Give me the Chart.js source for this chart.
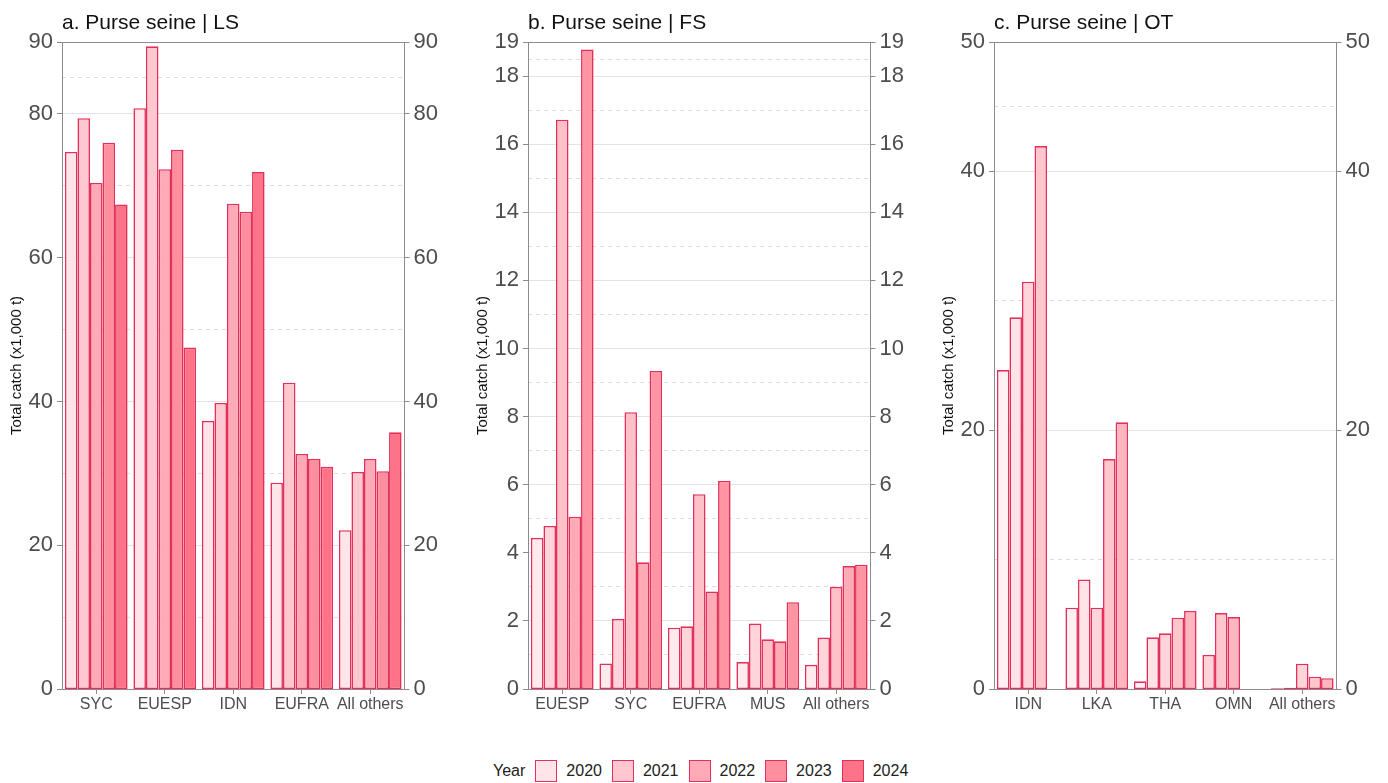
<!DOCTYPE html>
<html>
<head>
<meta charset="utf-8">
<script src="https://cdn.jsdelivr.net/npm/chart.js@4.4.1/dist/chart.umd.min.js"></script>
<style>
  html, body { margin: 0; padding: 0; background: #fff; }
  body { width: 1388px; height: 783px; position: relative; overflow: hidden; font-family: "Liberation Sans", Arial, sans-serif; }
  .panel { position: absolute; top: 0; height: 730px; }
  .legend { position: absolute; left: 493px; top: 759px; height: 23px; display: flex; align-items: center; font-size: 16px; color: #222; }
  .legend .sw { width: 20px; height: 20px; border: 1.6px solid #E3305A; margin-left: 10px; margin-right: 9px; }
</style>
</head>
<body>
<div class="panel" style="left:0px;width:466px"><canvas id="cA" width="466" height="730"></canvas></div>
<div class="panel" style="left:466px;width:466px"><canvas id="cB" width="466" height="730"></canvas></div>
<div class="panel" style="left:932px;width:456px"><canvas id="cC" width="456" height="730"></canvas></div>
<div class="legend" id="legend"></div>
<script>
// ---------- DATA ----------
const years = ['2020', '2021', '2022', '2023', '2024'];

// a. Purse seine | LS
const lsFleets = ['SYC', 'EUESP', 'IDN', 'EUFRA', 'All others'];
const ls2020 = [74.7, 80.8, 37.3, 28.7, 22.1];
const ls2021 = [79.4, 89.4, 39.8, 42.6, 30.2];
const ls2022 = [70.4, 72.3, 67.5, 32.7, 32.0];
const ls2023 = [76.0, 75.0, 66.4, 32.0, 30.3];
const ls2024 = [67.4, 47.5, 71.9, 30.9, 35.7];
const lsTicks = [0, 20, 40, 60, 80, 90];
const lsMinorTicks = [10, 30, 50, 70, 85];

// b. Purse seine | FS
const fsFleets = ['EUESP', 'SYC', 'EUFRA', 'MUS', 'All others'];
const fs2020 = [4.44, 0.75, 1.80, 0.79, 0.71];
const fs2021 = [4.79, 2.06, 1.84, 1.92, 1.51];
const fs2022 = [16.72, 8.13, 5.72, 1.46, 3.00];
const fs2023 = [5.06, 3.72, 2.86, 1.40, 3.61];
const fs2024 = [18.78, 9.34, 6.11, 2.55, 3.65];
const fsTicks = [0, 2, 4, 6, 8, 10, 12, 14, 16, 18, 19];
const fsMinorTicks = [1, 3, 5, 7, 9, 11, 13, 15, 17, 18.5];

// c. Purse seine | OT
const otFleets = ['IDN', 'LKA', 'THA', 'OMN', 'All others'];
const ot2020 = [24.65, 6.28, 0.59, null, 0.05];
const ot2021 = [28.72, 8.47, 3.99, null, 0.10];
const ot2022 = [31.48, 6.28, 4.30, 2.63, 1.96];
const ot2023 = [41.96, 17.77, 5.51, 5.87, 0.95];
const ot2024 = [null, 20.61, 6.03, 5.56, 0.83];
const otTicks = [0, 20, 40, 50];
const otMinorTicks = [10, 30, 45];

// ---------- STYLE ----------
const edgeColor = '#E3305A';
const paletteA = ['#FFE5EA', '#FFC8D0', '#FFAAB6', '#FF8F9E', '#FF7388'];
const paletteB = ['#FFEBEE', '#FFD5DB', '#FFC0C8', '#FFABB5', '#FF95A3'];
const paletteC = ['#FFF1F3', '#FFE3E7', '#FFD5DA', '#FFC6CD', '#FFB6BF'];
const axisGrey = '#8c8c8c';
const tickTextGrey = '#4d4d4d';
const FONT = '"Liberation Sans", Arial, sans-serif';

// Build dodge slots (bars of a category fill slots from the left, like the source)
function buildDatasets(cats, series, palette) {
  const slots = series.map(() => ({ data: cats.map(() => null), bg: cats.map(() => 'rgba(0,0,0,0)') }));
  cats.forEach((c, i) => {
    let k = 0;
    series.forEach((s, j) => {
      const v = s[i];
      if (v !== null && v !== undefined) {
        slots[k].data[i] = v;
        slots[k].bg[i] = palette[j];
        k++;
      }
    });
  });
  return slots.map((s, k) => ({
    label: 'slot ' + (k + 1),
    data: s.data,
    backgroundColor: s.bg,
    borderColor: edgeColor,
    borderWidth: 1.6,
    borderSkipped: false,
    categoryPercentage: 0.915,
    barPercentage: 1.0
  }));
}

const panelTitlePlugin = {
  id: 'panelTitle',
  afterDraw(chart, args, opts) {
    const ctx = chart.ctx;
    ctx.save();
    ctx.font = '21px ' + FONT;
    ctx.fillStyle = '#111';
    ctx.textAlign = 'left';
    ctx.textBaseline = 'alphabetic';
    ctx.fillText(opts.text, chart.chartArea.left, 29);
    ctx.restore();
  }
};

function makePanel(id, title, cats, series, palette, ticks, minorTicks, canvasW) {
  const maxV = ticks[ticks.length - 1];
  const setTicks = (vals) => (scale) => { scale.ticks = vals.map(v => ({ value: v })); };
  new Chart(document.getElementById(id), {
    type: 'bar',
    data: { labels: cats, datasets: buildDatasets(cats, series, palette) },
    plugins: [panelTitlePlugin],
    options: {
      responsive: false,
      maintainAspectRatio: false,
      animation: false,
      events: [],
      layout: { padding: { top: 42, left: 0, right: 0, bottom: 0 } },
      plugins: {
        legend: { display: false },
        tooltip: { enabled: false },
        title: { display: false },
        panelTitle: { text: title }
      },
      scales: {
        x: {
          type: 'category',
          offset: true,
          grid: { drawOnChartArea: false, offset: false, tickLength: 5, tickColor: axisGrey, tickWidth: 1 },
          border: { color: axisGrey, width: 1 },
          ticks: { font: { family: FONT, size: 16 }, color: tickTextGrey, padding: 1, maxRotation: 0, autoSkip: false },
          afterFit: (s) => { s.height = 41; }
        },
        yMinor: {
          type: 'linear',
          position: 'left',
          min: 0, max: maxV,
          afterBuildTicks: setTicks(minorTicks),
          ticks: { display: false },
          grid: { color: '#dcdcdc', lineWidth: 1, drawTicks: false, drawOnChartArea: true },
          border: { display: false, dash: [4, 4] },
          afterFit: (s) => { s.width = 0; }
        },
        y: {
          type: 'linear',
          position: 'left',
          min: 0, max: maxV,
          afterBuildTicks: setTicks(ticks),
          ticks: { font: { family: FONT, size: 22 }, color: tickTextGrey, padding: 4, autoSkip: false, callback: (v) => String(v) },
          grid: {
            color: (ctx) => {
              const v = ctx.tick ? ctx.tick.value : null;
              if (v === maxV) return axisGrey;
              if (v === 0) return 'rgba(0,0,0,0)';
              return '#e3e3e3';
            },
            lineWidth: 1,
            tickLength: 5, tickColor: axisGrey, tickWidth: 1
          },
          border: { color: axisGrey, width: 1 },
          title: { display: true, text: 'Total catch (x1,000 t)', font: { family: FONT, size: 15 }, color: '#111', padding: { top: 8, bottom: 0 } },
          afterFit: (s) => { s.width = 62; }
        },
        yRight: {
          type: 'linear',
          position: 'right',
          min: 0, max: maxV,
          afterBuildTicks: setTicks(ticks),
          ticks: { font: { family: FONT, size: 22 }, color: tickTextGrey, padding: 4, autoSkip: false, callback: (v) => String(v) },
          grid: { drawOnChartArea: false, tickLength: 5, tickColor: axisGrey, tickWidth: 1 },
          border: { color: axisGrey, width: 1 },
          afterFit: (s) => { s.width = canvasW - 404.5; }
        }
      }
    }
  });
}

makePanel('cA', 'a. Purse seine | LS', lsFleets, [ls2020, ls2021, ls2022, ls2023, ls2024], paletteA, lsTicks, lsMinorTicks, 466);
makePanel('cB', 'b. Purse seine | FS', fsFleets, [fs2020, fs2021, fs2022, fs2023, fs2024], paletteB, fsTicks, fsMinorTicks, 466);
makePanel('cC', 'c. Purse seine | OT', otFleets, [ot2020, ot2021, ot2022, ot2023, ot2024], paletteC, otTicks, otMinorTicks, 456);

// ---------- LEGEND ----------
const leg = document.getElementById('legend');
const yl = document.createElement('span');
yl.textContent = 'Year';
leg.appendChild(yl);
years.forEach((y, i) => {
  const sw = document.createElement('span');
  sw.className = 'sw';
  sw.style.background = paletteA[i];
  leg.appendChild(sw);
  const t = document.createElement('span');
  t.textContent = y;
  leg.appendChild(t);
});
</script>
</body>
</html>
